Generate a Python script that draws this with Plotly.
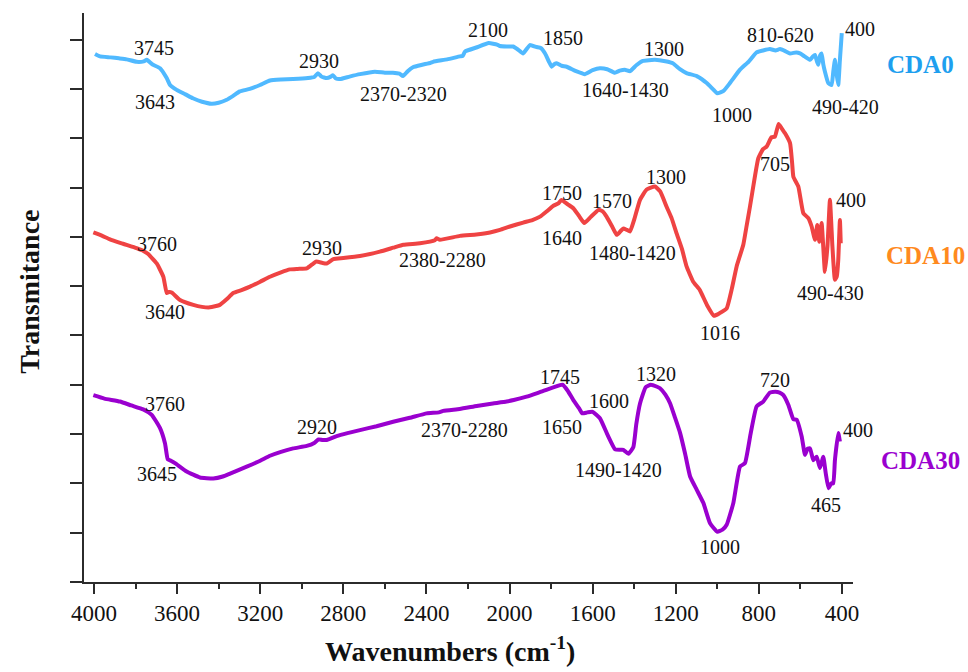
import plotly.graph_objects as go

# ---------------- spectra (wavenumber in cm-1, transmittance in arbitrary offset units) ----------------
series_names = ["CDA0", "CDA10", "CDA30"]

cda0_wn = [3995, 3971, 3920, 3880, 3843, 3795, 3760, 3746, 3720, 3682, 3650, 3634, 3602, 3560, 3524,
           3480, 3434, 3400, 3361, 3330, 3298, 3250, 3201, 3153, 3100, 3042, 2970, 2940, 2922, 2905,
           2880, 2860, 2850, 2835, 2816, 2770, 2720, 2648, 2600, 2561, 2530, 2513, 2490, 2465, 2420,
           2380, 2368, 2300, 2239, 2225, 2214, 2160, 2100, 2060, 2046, 2013, 1983, 1960, 1935, 1902,
           1870, 1850, 1829, 1810, 1797, 1785, 1773, 1749, 1725, 1680, 1637, 1600, 1565, 1530, 1493,
           1470, 1445, 1420, 1390, 1358, 1300, 1250, 1214, 1180, 1148, 1099, 1051, 1020, 1000, 970,
           939, 891, 850, 811, 780, 747, 720, 698, 670, 650, 620, 602, 580, 554, 540,
           530, 520, 514, 505, 498, 490, 482, 466, 450, 442, 434, 426, 418, 410, 401]
cda0_t = [10.71, 10.66, 10.64, 10.62, 10.60, 10.55, 10.56, 10.59, 10.50, 10.42, 10.22, 10.08, 9.98, 9.89, 9.81,
          9.74, 9.70, 9.72, 9.78, 9.86, 9.95, 10.00, 10.08, 10.17, 10.19, 10.20, 10.22, 10.24, 10.32, 10.25,
          10.22, 10.25, 10.28, 10.21, 10.20, 10.25, 10.30, 10.35, 10.33, 10.33, 10.31, 10.26, 10.36, 10.44, 10.49,
          10.53, 10.55, 10.60, 10.66, 10.67, 10.76, 10.84, 10.93, 10.90, 10.87, 10.86, 10.86, 10.80, 10.72, 10.89,
          10.85, 10.83, 10.72, 10.55, 10.45, 10.50, 10.52, 10.47, 10.45, 10.36, 10.30, 10.38, 10.42, 10.40, 10.33,
          10.37, 10.39, 10.36, 10.48, 10.57, 10.59, 10.56, 10.52, 10.40, 10.32, 10.26, 10.12, 9.99, 9.91, 9.96,
          10.12, 10.39, 10.55, 10.74, 10.78, 10.81, 10.78, 10.81, 10.76, 10.72, 10.74, 10.72, 10.66, 10.59, 10.66,
          10.69, 10.55, 10.49, 10.68, 10.72, 10.50, 10.35, 10.12, 10.08, 10.35, 10.59, 10.30, 10.08, 10.59, 11.13]

cda10_wn = [4003, 3960, 3923, 3860, 3795, 3760, 3739, 3698, 3666, 3650, 3640, 3626, 3586, 3522, 3480,
            3442, 3394, 3360, 3330, 3290, 3249, 3200, 3153, 3100, 3057, 3020, 2976, 2950, 2930, 2900,
            2880, 2848, 2800, 2720, 2624, 2560, 2511, 2431, 2360, 2351, 2335, 2239, 2160, 2094, 2046,
            1998, 1934, 1890, 1853, 1820, 1789, 1765, 1750, 1720, 1693, 1665, 1640, 1610, 1570, 1550,
            1533, 1505, 1484, 1465, 1452, 1435, 1420, 1400, 1372, 1340, 1300, 1275, 1244, 1220, 1196,
            1170, 1148, 1116, 1084, 1050, 1016, 990, 955, 930, 907, 875, 860, 843, 820, 803,
            780, 763, 739, 723, 705, 690, 674, 650, 640, 634, 610, 586, 562, 546, 530,
            519, 509, 498, 482, 470, 458, 446, 434, 425, 418, 410, 406]
cda10_t = [7.09, 7.02, 6.95, 6.86, 6.77, 6.71, 6.65, 6.46, 6.19, 5.86, 5.88, 5.87, 5.72, 5.62, 5.58,
           5.57, 5.62, 5.74, 5.86, 5.92, 5.99, 6.09, 6.19, 6.28, 6.34, 6.35, 6.36, 6.44, 6.50, 6.47,
           6.46, 6.55, 6.57, 6.61, 6.70, 6.78, 6.84, 6.87, 6.93, 6.97, 6.94, 7.02, 7.05, 7.09, 7.14,
           7.21, 7.29, 7.34, 7.41, 7.52, 7.63, 7.68, 7.75, 7.66, 7.58, 7.42, 7.28, 7.40, 7.55, 7.51,
           7.41, 7.20, 7.04, 7.12, 7.17, 7.14, 7.11, 7.35, 7.75, 7.96, 8.02, 7.92, 7.61, 7.38, 7.07,
           6.75, 6.40, 6.09, 5.92, 5.62, 5.40, 5.45, 5.55, 5.95, 6.40, 6.84, 7.20, 7.61, 8.20, 8.59,
           8.78, 8.83, 9.02, 9.03, 9.29, 9.20, 9.10, 8.90, 8.50, 8.22, 8.02, 7.48, 7.38, 7.21, 6.94,
           7.24, 6.90, 7.28, 6.29, 6.80, 7.75, 6.80, 6.13, 6.20, 6.53, 7.34, 6.87]

cda30_wn = [4003, 3950, 3875, 3820, 3763, 3722, 3682, 3658, 3645, 3630, 3610, 3554, 3490, 3426, 3380,
            3345, 3265, 3200, 3153, 3100, 3041, 2976, 2940, 2920, 2900, 2880, 2832, 2780, 2720, 2640,
            2560, 2480, 2399, 2340, 2319, 2240, 2158, 2080, 2014, 1980, 1918, 1840, 1745, 1720, 1693,
            1665, 1650, 1625, 1600, 1565, 1530, 1492, 1470, 1452, 1428, 1404, 1390, 1372, 1345, 1320,
            1290, 1276, 1250, 1227, 1205, 1179, 1155, 1131, 1099, 1067, 1035, 1000, 975, 955, 923,
            891, 867, 840, 811, 779, 747, 720, 700, 682, 658, 634, 618, 594, 578, 566,
            554, 538, 522, 506, 490, 478, 465, 452, 442, 434, 418, 410]
cda30_t = [3.79, 3.72, 3.66, 3.58, 3.50, 3.39, 3.12, 2.81, 2.49, 2.46, 2.41, 2.24, 2.12, 2.10, 2.14,
           2.20, 2.34, 2.46, 2.56, 2.64, 2.71, 2.76, 2.82, 2.89, 2.88, 2.88, 2.96, 3.02, 3.08, 3.16,
           3.25, 3.33, 3.42, 3.44, 3.47, 3.51, 3.57, 3.62, 3.66, 3.69, 3.76, 3.87, 4.00, 3.88, 3.69,
           3.52, 3.42, 3.44, 3.45, 3.32, 3.00, 2.69, 2.68, 2.68, 2.60, 2.74, 3.20, 3.62, 3.95, 4.00,
           3.96, 3.93, 3.80, 3.62, 3.35, 3.02, 2.60, 2.14, 1.87, 1.60, 1.19, 1.02, 1.06, 1.16, 1.60,
           2.34, 2.41, 3.00, 3.56, 3.66, 3.84, 3.86, 3.84, 3.79, 3.59, 3.30, 3.29, 2.95, 2.58, 2.70,
           2.71, 2.47, 2.54, 2.31, 2.54, 2.20, 1.90, 2.00, 2.00, 2.47, 3.02, 2.85]

# band assignments written next to each spectrum: (text, wavenumber, transmittance)
cda0_bands = [("3745", 3709, 10.83), ("3643", 3706, 9.74), ("2930", 2915, 10.57),
              ("2370-2320", 2508, 9.90), ("2100", 2104, 11.20), ("1850", 1743, 11.03),
              ("1300", 1258, 10.80), ("1640-1430", 1442, 9.97), ("1000", 929, 9.47),
              ("810-620", 698, 11.10), ("400", 313, 11.22), ("490-420", 382, 9.64)]
cda10_bands = [("3760", 3697, 6.86), ("3640", 3656, 5.48), ("2930", 2903, 6.77),
               ("2380-2280", 2323, 6.53), ("1750", 1748, 7.88), ("1570", 1507, 7.73),
               ("1640", 1748, 6.97), ("1480-1420", 1406, 6.67), ("1300", 1249, 8.22),
               ("705", 722, 8.48), ("400", 357, 7.75), ("490-430", 454, 5.87), ("1016", 987, 5.05)]
cda30_bands = [("3760", 3656, 3.60), ("3645", 3698, 2.20), ("2920", 2928, 3.15),
               ("2370-2280", 2216, 3.08), ("1745", 1756, 4.16), ("1320", 1294, 4.22),
               ("1600", 1521, 3.68), ("1650", 1748, 3.15), ("1490-1420", 1474, 2.27),
               ("720", 721, 4.09), ("400", 322, 3.09), ("465", 478, 1.56), ("1000", 989, 0.71)]

# sample-name tags at the right of each trace: (wavenumber, transmittance)
name_positions = [(21, 10.49), (-3, 6.62), (23, 2.47)]

line_colors = ["#50B9FF", "#EF4343", "#9A00CF"]
name_colors = ["#1E9FEF", "#FF8A1E", "#9A00CF"]

SERIF = "Liberation Serif, Times New Roman, serif"
AXIS = "#2b2b2b"
X_RANGE = [4048, 347]
Y_RANGE = [0, 11.54]


def paper_xy(wn, t):
    """Place a text by spectrum coordinates, allowing it to sit beyond the axes."""
    px = (X_RANGE[0] - wn) / (X_RANGE[0] - X_RANGE[1])
    py = (t - Y_RANGE[0]) / (Y_RANGE[1] - Y_RANGE[0])
    return px, py


fig = go.Figure()
for name, wn, t, col in zip(series_names,
                            [cda0_wn, cda10_wn, cda30_wn],
                            [cda0_t, cda10_t, cda30_t],
                            line_colors):
    fig.add_trace(go.Scatter(x=wn, y=t, mode="lines", name=name,
                             line=dict(color=col, width=4, shape="spline", smoothing=0.4),
                             showlegend=False))

annotations = []
for bands in (cda0_bands, cda10_bands, cda30_bands):
    for text, x, y in bands:
        px, py = paper_xy(x, y)
        annotations.append(dict(x=px, y=py, xref="paper", yref="paper", text=text, showarrow=False,
                                xanchor="center", yanchor="middle",
                                font=dict(family=SERIF, size=20, color="#111111")))

for name, (x, y), col in zip(series_names, name_positions, name_colors):
    px, py = paper_xy(x, y)
    annotations.append(dict(x=px, y=py, xref="paper", yref="paper", text=f"<b>{name}</b>",
                            showarrow=False, xanchor="center", yanchor="middle",
                            font=dict(family=SERIF, size=25, color=col)))

annotations.append(dict(x=0.476, y=-0.153, xref="paper", yref="paper",
                        xanchor="center", yanchor="bottom",
                        text="<b>Wavenumbers (cm<sup>-1</sup>)</b>", showarrow=False,
                        font=dict(family=SERIF, size=28, color="#111111")))
annotations.append(dict(x=-0.0702, y=0.51, xref="paper", yref="paper", textangle=-90,
                        xanchor="center", yanchor="middle",
                        text="<b>Transmitance</b>", showarrow=False,
                        font=dict(family=SERIF, size=28, color="#111111")))

fig.update_layout(
    width=968, height=672,
    margin=dict(l=84, r=115, t=13, b=90),
    paper_bgcolor="white", plot_bgcolor="white",
    annotations=annotations,
    xaxis=dict(range=X_RANGE, tickmode="linear", tick0=0, dtick=400,
               showgrid=False, zeroline=False, showline=True, linecolor=AXIS, linewidth=1.5,
               ticks="outside", ticklen=10, tickwidth=1.5, tickcolor=AXIS,
               tickfont=dict(family=SERIF, size=23, color="#111111"),
               minor=dict(dtick=200, ticks="outside", ticklen=5, tickwidth=1.5, tickcolor=AXIS)),
    yaxis=dict(range=Y_RANGE, tickmode="linear", tick0=0, dtick=1,
               showgrid=False, zeroline=False, showline=True, linecolor=AXIS, linewidth=1.5,
               ticks="outside", ticklen=12, tickwidth=1.5, tickcolor=AXIS, showticklabels=False),
)

fig.write_html("out.html")
